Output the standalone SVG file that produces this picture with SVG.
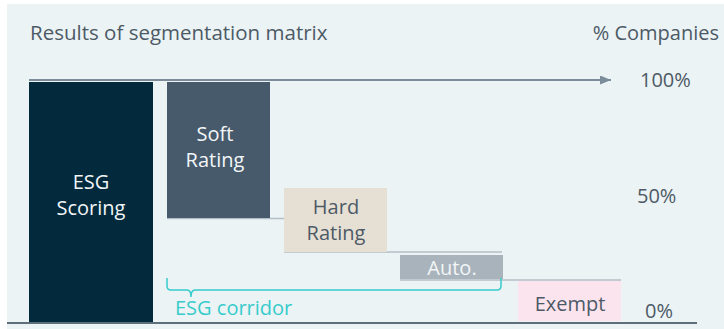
<svg xmlns="http://www.w3.org/2000/svg" width="724" height="329" viewBox="0 0 724 329">
  <defs>
    <marker id="arrowhead" markerUnits="userSpaceOnUse" markerWidth="12" markerHeight="9" refX="11" refY="4.5" orient="auto">
      <path d="M0,0 L11,4.5 L0,9 Z" fill="#7A8C99"/>
    </marker>
    <style>
      text { font-family: "Open Sans", "Noto Sans", sans-serif; font-size: 20px; }
      .axis { fill: #4D5A66; }
      .dark { fill: #4D5A66; text-anchor: middle; }
      .light { fill: #F2F6F8; text-anchor: middle; }
      .guide { stroke: #B4BEC6; stroke-width: 1.5; fill: none; }
      .corridor { fill: #37CBCB; }
    </style>
  </defs>

  <!-- panel -->
  <rect x="7" y="4" width="717" height="325" fill="#EBF3F5"/>

  <!-- headings -->
  <text class="axis" x="30" y="40" style="font-size:20.5px">Results of segmentation matrix</text>
  <text class="axis" x="719" y="40" text-anchor="end">% Companies</text>

  <!-- scale labels -->
  <text class="axis" x="640" y="87">100%</text>
  <text class="axis" x="637" y="203">50%</text>
  <text class="axis" x="645" y="318">0%</text>

  <!-- connectors: axes and step guides -->
  <g id="connectors">
    <line x1="29" y1="80" x2="611" y2="80" stroke="#7A8C99" stroke-width="2" marker-end="url(#arrowhead)"/>
    <line x1="7" y1="323" x2="697" y2="323" stroke="#5E6E7B" stroke-width="2"/>
    <line class="guide" x1="167" y1="218.5" x2="285" y2="218.5"/>
    <line class="guide" x1="284" y1="252" x2="502" y2="252"/>
    <line class="guide" x1="400" y1="280" x2="621" y2="280"/>
  </g>

  <g id="esg-scoring">
    <rect x="29" y="82" width="124" height="240" fill="#022A3C"/>
    <text class="light" x="91" y="189">ESG</text>
    <text class="light" x="91" y="215">Scoring</text>
  </g>

  <g id="soft-rating">
    <rect x="167" y="82" width="103" height="136" fill="#475A6B"/>
    <text class="light" x="215" y="141">Soft</text>
    <text class="light" x="215" y="167">Rating</text>
  </g>

  <g id="hard-rating">
    <rect x="284" y="188" width="103" height="64" fill="#E6E0D4"/>
    <text class="dark" x="336" y="214">Hard</text>
    <text class="dark" x="336" y="240">Rating</text>
  </g>

  <g id="auto">
    <rect x="400" y="255" width="103" height="24" fill="#A9B3BB"/>
    <text class="light" x="452" y="275">Auto.</text>
  </g>

  <g id="exempt">
    <rect x="518" y="281" width="103" height="40" fill="#FCE4EE"/>
    <text class="dark" x="570" y="311">Exempt</text>
  </g>

  <g id="esg-corridor">
    <path d="M167,278 V286 Q167,290 171,290 H187 Q191,290 191,297 Q191,290 195,290 H497 Q501,290 501,286 V278" fill="none" stroke="#37CBCB" stroke-width="1.5"/>
    <text class="corridor" x="175" y="315">ESG corridor</text>
  </g>
</svg>
